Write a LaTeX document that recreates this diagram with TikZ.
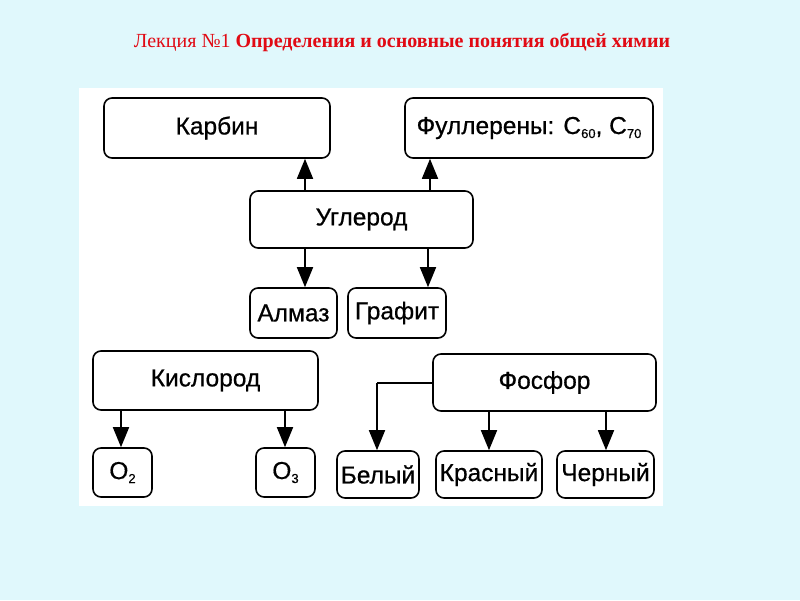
\documentclass[tikz,border=0pt]{standalone}
\usepackage{fontspec}
\setmainfont{Liberation Serif}
\newfontfamily\boxfont[FakeBold=0.6]{Liberation Sans}
\usetikzlibrary{arrows.meta}
\definecolor{bgcyan}{RGB}{224,248,252}
\definecolor{titlered}{RGB}{225,10,20}
\tikzset{
  bx/.style={draw=black, line width=1.6pt, rounded corners=8pt, fill=white,
    inner sep=0pt, font=\boxfont\fontsize{24.5}{26}\selectfont},
  arr/.style={line width=1.7pt, -{Triangle[length=20pt,width=16pt]}},
  ln/.style={line width=1.7pt},
}
\newcommand{\sbs}[1]{\raisebox{-4pt}{\fontsize{13}{13}\selectfont #1}}
\newcommand{\bxat}[6]{%
  \node[bx, minimum width=#4-#2, minimum height=#5-#3] (#1) at ({(#2+#4)/2},{(#3+#5)/2}) {#6};}
\begin{document}
\begin{tikzpicture}[x=1pt,y=-1pt]
\fill[bgcyan] (0,0) rectangle (800,600);
\useasboundingbox (0,0) rectangle (800,600);
\fill[white] (79,88) rectangle (663,506);
\node[text=titlered, font=\fontsize{20}{22}\selectfont] (title) at (402,42) {Лекция №1 \textbf{Определения и основные понятия общей химии}};
\bxat{karb}{104}{98}{330}{158}{Карбин}
\bxat{full}{405}{98}{653}{158}{Фуллерены: C\sbs{60}, C\sbs{70}}
\bxat{ugl}{250}{191}{473}{248}{Углерод}
\bxat{alm}{250}{288}{337}{338}{Алмаз}
\bxat{graf}{348}{288}{446}{338}{Графит}
\bxat{kisl}{93}{351}{318}{410}{Кислород}
\bxat{fosf}{433}{354}{656}{411}{Фосфор}
\bxat{oa}{93}{448}{152}{497}{O\sbs{2}}
\bxat{ob}{256}{448}{315}{497}{O\sbs{3}}
\bxat{bel}{337}{451}{419}{498}{Белый}
\bxat{kras}{436}{451}{542}{498}{Красный}
\bxat{cher}{557}{451}{654}{498}{Черный}
% arrows
\draw[arr] (305,0 |- ugl.north) -- (305,0 |- karb.south);
\draw[arr] (430,0 |- ugl.north) -- (430,0 |- full.south);
\draw[arr] (305,0 |- ugl.south) -- (305,0 |- alm.north);
\draw[arr] (428,0 |- ugl.south) -- (428,0 |- graf.north);
\draw[arr] (121,0 |- kisl.south) -- (121,0 |- oa.north);
\draw[arr] (285,0 |- kisl.south) -- (285,0 |- ob.north);
\draw[arr] (489,0 |- fosf.south) -- (489,0 |- kras.north);
\draw[arr] (606,0 |- fosf.south) -- (606,0 |- cher.north);
\coordinate (bend) at (377,383);
\draw[ln] (fosf.west |- bend) -- (bend);
\draw[arr] (bend) -- (bend |- bel.north);
\end{tikzpicture}
\end{document}
